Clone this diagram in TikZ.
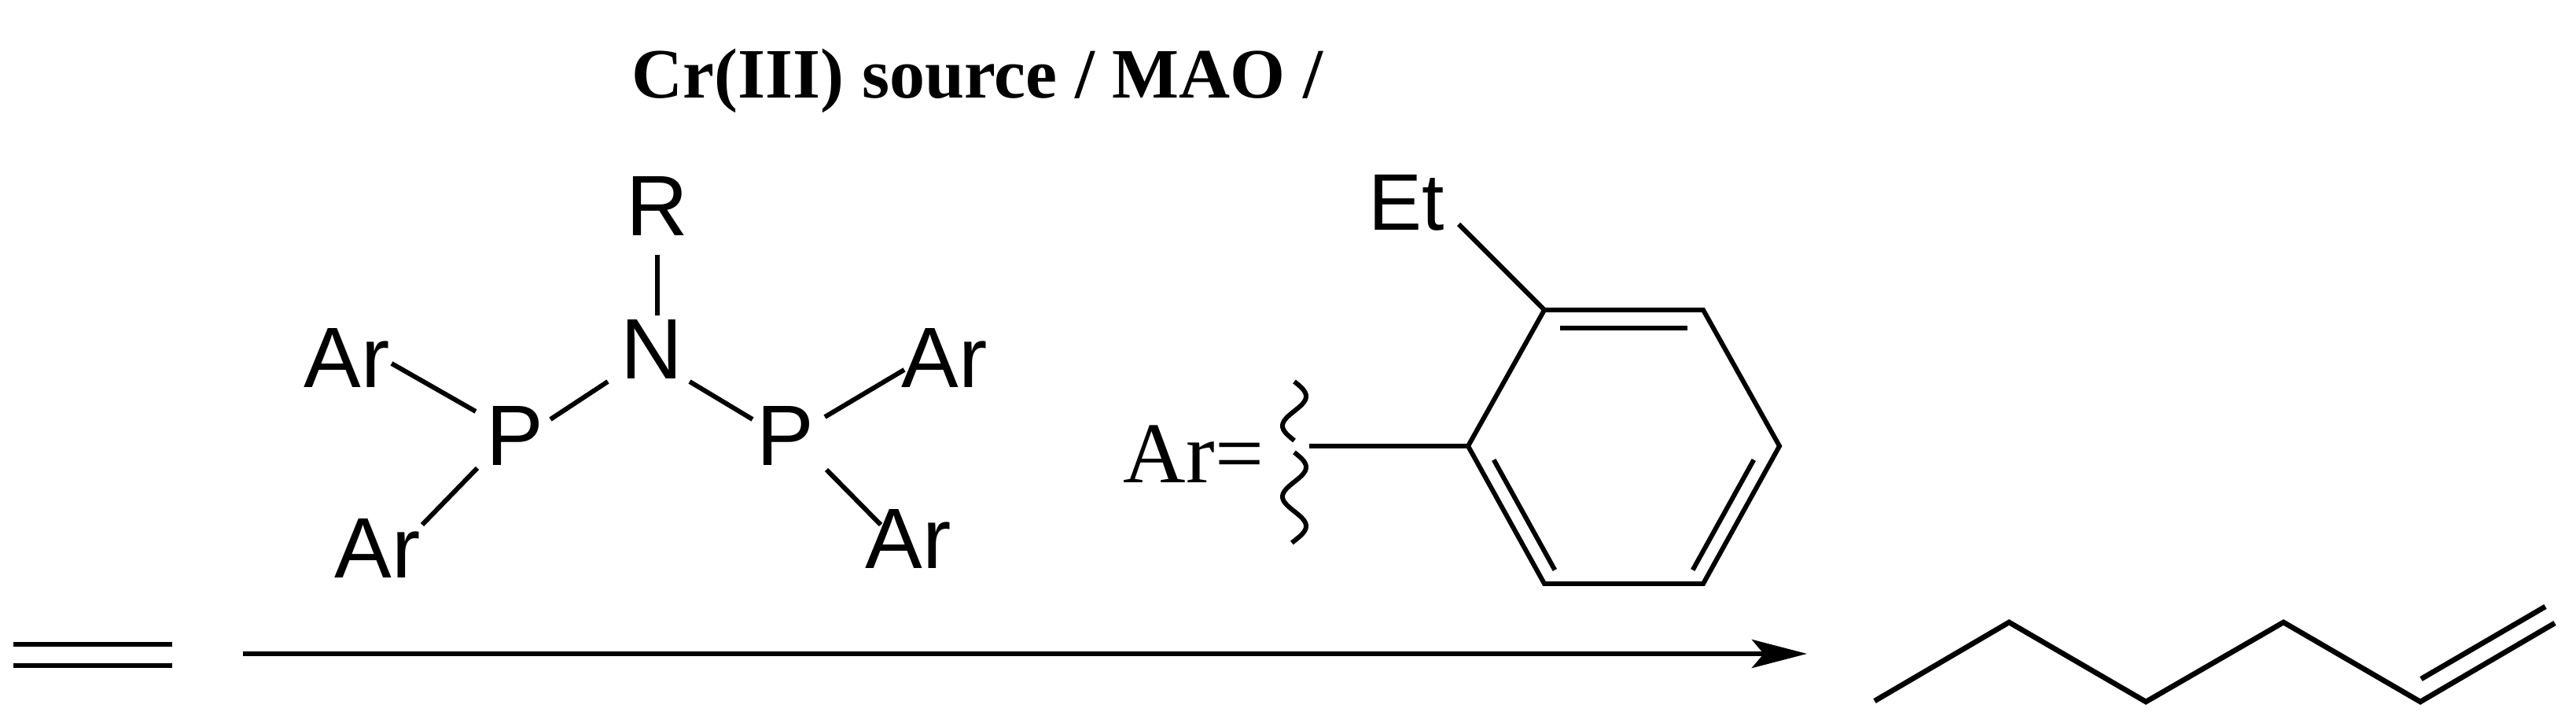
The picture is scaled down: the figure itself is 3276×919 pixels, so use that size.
\documentclass[tikz,border=0pt]{standalone}
\usepackage{fontspec}
\setmainfont{Liberation Serif}
\newfontfamily\chemsans{Liberation Sans}
\usetikzlibrary{arrows.meta,calc}
\begin{document}
\begin{tikzpicture}[x=0.01cm,y=-0.01cm,
  bond/.style={line width=1.7pt,line cap=butt},
  atom/.style={font=\chemsans\fontsize{31}{31}\selectfont,inner sep=0pt,anchor=base},
  serifbig/.style={inner sep=0pt,anchor=base}]
\useasboundingbox (0,0) rectangle (3276,919);
% title
\node[serifbig,font=\bfseries\fontsize{25.6}{26}\selectfont] (title) at (1243,125) {Cr(III) source / MAO /};
% ligand atoms
\node[atom] (R) at (836,300) {R};
\node[atom] (N) at (829,482) {N};
\node[atom] (PL) at (655,592) {P};
\node[atom] (PR) at (999,592) {P};
\node[atom] (ArTL) at (441,493) {Ar};
\node[atom] (ArBL) at (480,735) {Ar};
\node[atom] (ArTR) at (1201,493) {Ar};
\node[atom] (ArBR) at (1155,722) {Ar};
\coordinate (b1a) at (836,324); \coordinate (b1b) at (836,401);
\coordinate (b2a) at (700,533); \coordinate (b2b) at (773,485);
\coordinate (b3a) at (877,485); \coordinate (b3b) at (957,533);
\coordinate (b4a) at (498,462); \coordinate (b4b) at (605,523);
\coordinate (b5a) at (607,595); \coordinate (b5b) at (537,667);
\coordinate (b6a) at (1049,530); \coordinate (b6b) at (1150,470);
\coordinate (b7a) at (1051,597); \coordinate (b7b) at (1120,667);
\foreach \p/\q in {b1a/b1b,b2a/b2b,b3a/b3b,b4a/b4b,b5a/b5b,b6a/b6b,b7a/b7b}
  \draw[bond] (\p) -- (\q);
% Ar definition
\node[serifbig,font=\fontsize{31.3}{31}\selectfont] (ArEq) at (1518,614) {Ar=};
\node[atom,font=\chemsans\fontsize{29}{29}\selectfont] (Et) at (1789,293) {Et};
\coordinate (C1) at (1867,567); \coordinate (C2) at (1964,394);
\coordinate (C3) at (2166,394); \coordinate (C4) at (2263,567);
\coordinate (C5) at (2166,742); \coordinate (C6) at (1964,742);
\coordinate (W) at (1665,567); \coordinate (EtB) at (1855,285);
\draw[bond,line join=miter] (C1) -- (C2) -- (C3) -- (C4) -- (C5) -- (C6) -- cycle;
\draw[bond] (W) -- (C1);
\draw[bond] (EtB) -- (C2);
\draw[bond] ($(C2)!0.1!(C3)+(0,23)$) -- ($(C3)!0.1!(C2)+(0,23)$);
\draw[bond] ($(C1)!0.1!(C6)+(23,0)$) -- ($(C6)!0.1!(C1)+(23,0)$);
\draw[bond] ($(C4)!0.1!(C5)+(-23,0)$) -- ($(C5)!0.1!(C4)+(-23,0)$);
\draw[bond] plot[smooth,domain=485:560,samples=50] ({1646+15*sin((\x-485)/75*360)},\x);
\draw[bond] plot[smooth,domain=575:690,samples=70] ({1646+15*sin((\x-575)/75*360)},\x);
% ethylene
\coordinate (E1) at (17,819); \coordinate (E2) at (219,819);
\coordinate (E3) at (17,846); \coordinate (E4) at (219,846);
\draw[bond] (E1) -- (E2); \draw[bond] (E3) -- (E4);
% arrow
\coordinate (A1) at (309,831); \coordinate (A2) at (2298,831);
\draw[line width=1.7pt,-{Stealth[length=0.7cm,width=0.36cm,inset=0.15cm]}] (A1) -- (A2);
% product
\coordinate (H1) at (2384,891); \coordinate (H2) at (2555,791);
\coordinate (H3) at (2729,892); \coordinate (H4) at (2904,791);
\coordinate (H5) at (3078,892); \coordinate (H6) at (3249,792);
\coordinate (H7) at (3079,863); \coordinate (H8) at (3237,771);
\draw[line width=1.9pt,line join=miter] (H1) -- (H2) -- (H3) -- (H4) -- (H5) -- (H6);
\draw[line width=1.9pt] (H7) -- (H8);
\end{tikzpicture}
\end{document}
